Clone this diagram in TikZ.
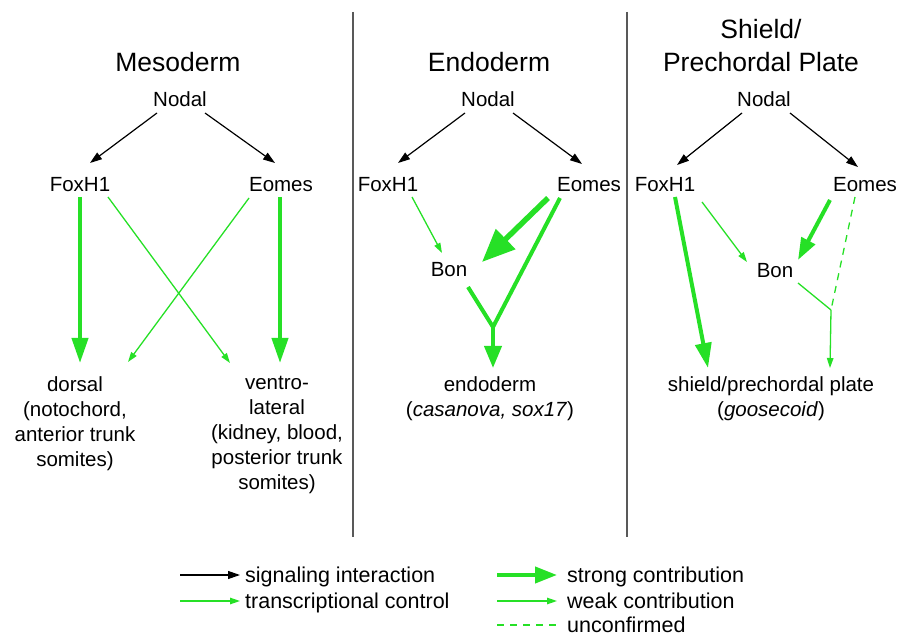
\documentclass[tikz,border=0pt]{standalone}
\usepackage{fontspec}
\setmainfont{Liberation Sans}
\usetikzlibrary{arrows.meta}
\definecolor{tfgreen}{RGB}{38,224,38}

\begin{document}
\begin{tikzpicture}[x=1pt, y=-1pt,
    every node/.style = {inner sep=0pt, font=\fontsize{20.5}{25}\selectfont},
    gene/.style = {anchor=base},
    fate/.style = {anchor=north, align=center},
    title/.style = {font=\fontsize{26.5}{33}\selectfont, align=center},
    key/.style = {anchor=base west, font=\fontsize{21.5}{25}\selectfont},
    signal/.style = {line width=1.2pt, -{Triangle[length=12pt, width=8pt]}},
    weak/.style = {tfgreen, line width=1.3pt, -{Triangle[length=10pt, width=6.5pt]}},
    strong/.style = {tfgreen, line width=4pt, -{Triangle[length=25pt, width=16pt]}},
    strongline/.style = {tfgreen, line width=4pt, line join=round},
    weakline/.style = {tfgreen, line width=1.3pt},
    unconf/.style = {tfgreen, line width=1.3pt, dash pattern=on 7pt off 6pt},
    divider/.style = {gray!70!black, line width=1.6pt}]
\useasboundingbox (0,0) rectangle (897,636);

% panel borders
\draw[divider] (353,12) -- (353,537);
\draw[divider] (627,12) -- (627,537);

% titles
\node[title, anchor=base] (tMeso) at (178,72) {Mesoderm};
\node[title, anchor=base] (tEndo) at (489,72) {Endoderm};
\node[title, anchor=north] (tShield) at (761,19) {Shield/\\Prechordal Plate};

% mesoderm
\node[gene] (nodA) at (180,107) {Nodal};
\node[gene] (foxA) at (80,192) {FoxH1};
\node[gene] (eomA) at (281,192) {Eomes};
\node[fate] (dorsal) at (75,376) {dorsal\\(notochord,\\anterior trunk\\somites)};
\node[fate] (ventro) at (277,376) {ventro-\\lateral\\(kidney, blood,\\posterior trunk\\somites)};

\draw[signal] ([shift={(-23,6)}]nodA.base) -- ([shift={(10,-29)}]foxA.base);
\draw[signal] ([shift={(25,6)}]nodA.base) -- ([shift={(-6,-29)}]eomA.base);
\draw[strong] ([shift={(0,5)}]foxA.base) -- ([shift={(5,-13)}]dorsal.north);
\draw[weak] ([shift={(28,5)}]foxA.base) -- ([shift={(-47,-13)}]ventro.north);
\draw[weak] ([shift={(-32,6)}]eomA.base) -- ([shift={(53,-14)}]dorsal.north);
\draw[strong] ([shift={(-1,5)}]eomA.base) -- ([shift={(3,-13)}]ventro.north);

% endoderm
\node[gene] (nodB) at (488,107) {Nodal};
\node[gene] (foxB) at (388,192) {FoxH1};
\node[gene] (eomB) at (589,192) {Eomes};
\node[gene] (bonB) at (449,277) {Bon};
\node[fate] (endo) at (490,376) {endoderm\\(\textit{casanova, sox17})};
\coordinate (jB) at (493,327);

\draw[signal] ([shift={(-23,6)}]nodB.base) -- ([shift={(10,-29)}]foxB.base);
\draw[signal] ([shift={(25,6)}]nodB.base) -- ([shift={(-7,-28)}]eomB.base);
\draw[weak] ([shift={(24,5)}]foxB.base) -- ([shift={(-7,-24)}]bonB.base);
\draw[tfgreen, line width=5.5pt, -{Triangle[length=33pt, width=27pt]}]
  ([shift={(-41,6)}]eomB.base) -- ([shift={(33,-15)}]bonB.base);
\draw[strongline] ([shift={(-29,6)}]eomB.base) -- (jB) -- ([shift={(19,10)}]bonB.base);
\draw[tfgreen, line width=4pt, -{Triangle[length=22pt, width=17pt]}]
  (jB) -- ([shift={(3,-8)}]endo.north);

% shield / prechordal plate
\node[gene] (nodC) at (764,107) {Nodal};
\node[gene] (foxC) at (665,192) {FoxH1};
\node[gene] (eomC) at (865,192) {Eomes};
\node[gene] (bonC) at (775,278) {Bon};
\node[fate] (shield) at (771,376) {shield/prechordal plate\\(\textit{goosecoid})};
\coordinate (jC) at (831,310);

\draw[signal] ([shift={(-22,6)}]nodC.base) -- ([shift={(12,-27)}]foxC.base);
\draw[signal] ([shift={(26,6)}]nodC.base) -- ([shift={(-7,-25)}]eomC.base);
\draw[strong] ([shift={(10,5)}]foxC.base) -- ([shift={(-63,-8)}]shield.north);
\draw[weak] ([shift={(37,10)}]foxC.base) -- ([shift={(-28,-16)}]bonC.base);
\draw[tfgreen, line width=4pt, -{Triangle[length=22pt, width=15pt]}]
  ([shift={(-35,8)}]eomC.base) -- ([shift={(23,-18)}]bonC.base);
\draw[unconf] ([shift={(-10,5)}]eomC.base) -- (jC);
\draw[weakline] ([shift={(23,5)}]bonC.base) -- (jC);
\draw[weak] (jC) -- ([shift={(59,-8)}]shield.north);

% legend
\node[key] (lgSig) at (245,582) {signaling interaction};
\node[key] (lgTf) at (245,608) {transcriptional control};
\node[key] (lgStrong) at (567,582) {strong contribution};
\node[key] (lgWeak) at (567,608) {weak contribution};
\node[key] (lgUnc) at (567,632) {unconfirmed};

\draw[signal] ([shift={(-65,-7)}]lgSig.base west) -- ([shift={(-5,-7)}]lgSig.base west);
\draw[weak] ([shift={(-65,-7)}]lgTf.base west) -- ([shift={(-5,-7)}]lgTf.base west);
\draw[tfgreen, line width=4pt, -{Triangle[length=22pt, width=16pt]}]
  ([shift={(-70,-7)}]lgStrong.base west) -- ([shift={(-10,-7)}]lgStrong.base west);
\draw[weak] ([shift={(-70,-7)}]lgWeak.base west) -- ([shift={(-10,-7)}]lgWeak.base west);
\draw[unconf] ([shift={(-70,-7)}]lgUnc.base west) -- ([shift={(-10,-7)}]lgUnc.base west);
\end{tikzpicture}
\end{document}
